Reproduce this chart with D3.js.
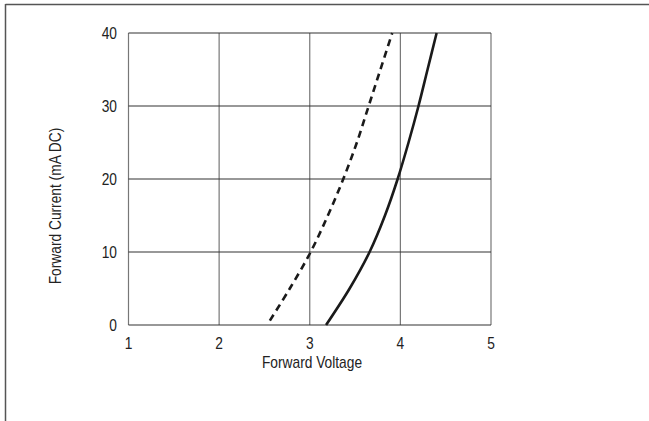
<!DOCTYPE html>
<html><head><meta charset="utf-8">
<script src="https://cdn.jsdelivr.net/npm/d3@7"></script>
<style>html,body{margin:0;padding:0;background:#fff;}svg{display:block;}</style>
</head><body>
<svg id="c" width="649" height="421"></svg>
<script>
const xTicks = [1, 2, 3, 4, 5];
const yTicks = [0, 10, 20, 30, 40];
const solidV = [3.18, 3.44, 3.66, 3.83, 3.97, 4.09, 4.20, 4.30, 4.40];
const solidI = [0, 5, 10, 15, 20, 25, 30, 35, 40];
const dashedV = [2.56, 2.78, 3.01, 3.20, 3.37, 3.52, 3.65, 3.78, 3.91];
const dashedI = [0.6, 5, 10, 15, 20, 25, 30, 35, 40];
const xTitle = "Forward Voltage";
const yTitle = "Forward Current (mA DC)";

const font = "'Liberation Sans Narrow','Arial Narrow','Liberation Sans',Arial,sans-serif";
const svg = d3.select("#c");
const x = d3.scaleLinear().domain([1, 5]).range([128.5, 491]);
const y = d3.scaleLinear().domain([0, 40]).range([325, 33]);

// outer partial frame
svg.append("line").attr("x1", 5.5).attr("x2", 649).attr("y1", 4.5).attr("y2", 4.5)
  .attr("stroke", "#555").attr("stroke-width", 1.5);
svg.append("line").attr("x1", 5.5).attr("x2", 5.5).attr("y1", 4).attr("y2", 421)
  .attr("stroke", "#555").attr("stroke-width", 1.5);

// grid
const g = svg.append("g");
g.selectAll(".vg").data(xTicks).join("line")
  .attr("x1", d => x(d)).attr("x2", d => x(d)).attr("y1", y(40)).attr("y2", y(0))
  .attr("stroke", "#777").attr("stroke-width", 1.2);
g.selectAll(".hg").data(yTicks).join("line")
  .attr("x1", x(1)).attr("x2", x(5)).attr("y1", d => y(d)).attr("y2", d => y(d))
  .attr("stroke", "#333").attr("stroke-width", 1.2);

// condensed text helper
function cText(sel, px, py, txt, anchor, rot) {
  const t = sel.append("text")
    .attr("transform", `translate(${px},${py})${rot ? " rotate(-90)" : ""} scale(0.86,1)`)
    .attr("text-anchor", anchor)
    .attr("font-family", font).attr("font-size", 16).attr("fill", "#222").text(txt);
  return t;
}

// tick labels
xTicks.forEach(d => cText(svg, x(d), 349, d3.format("d")(d), "middle"));
yTicks.forEach(d => cText(svg, 117, y(d) + 5.5, d3.format("d")(d), "end"));

cText(svg, 312, 367.5, xTitle, "middle");
cText(svg, 61, 206, yTitle, "middle", true);

const line = d3.line().x(d => x(d[0])).y(d => y(d[1])).curve(d3.curveCatmullRom.alpha(0.5));
svg.append("path").datum(solidV.map((v, i) => [v, solidI[i]]))
  .attr("d", line).attr("fill", "none").attr("stroke", "#1a1a1a").attr("stroke-width", 2.6);
svg.append("path").datum(dashedV.map((v, i) => [v, dashedI[i]]))
  .attr("d", line).attr("fill", "none").attr("stroke", "#1a1a1a").attr("stroke-width", 2.6)
  .attr("stroke-dasharray", "7,5");
</script>
</body></html>
